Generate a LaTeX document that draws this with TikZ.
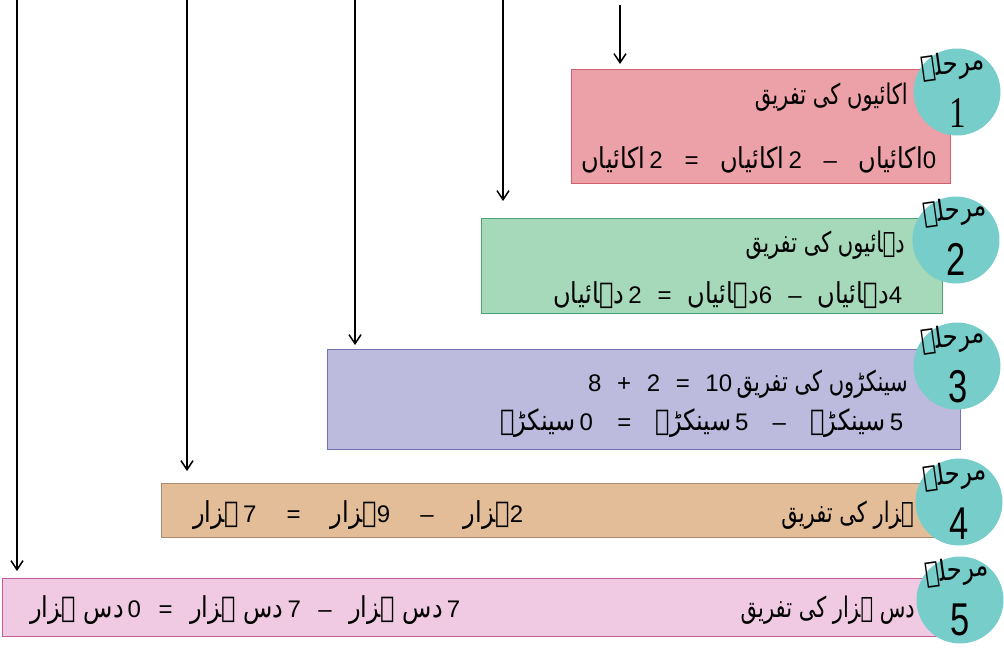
\documentclass[tikz,border=0pt]{standalone}
\usepackage{fontspec}
\usepackage{graphicx}
\setmainfont{Liberation Sans}
\newfontfamily\urdufont[Script=Arabic]{DejaVu Sans}
\newfontfamily\serifnum{Liberation Serif}
\TeXXeTstate=1
\usetikzlibrary{arrows.meta}
\newcommand\ur[1]{{\urdufont\beginR #1\endR}}
\newcommand\urt[1]{\scalebox{1}[1.35]{\ur{#1}}}
\newcommand\urw[1]{\scalebox{1}[1.2]{\ur{#1}}}
\definecolor{fillA}{HTML}{EBA1A7}
\definecolor{edgeA}{HTML}{CF5F6D}
\definecolor{fillB}{HTML}{A5D9BA}
\definecolor{edgeB}{HTML}{4BA275}
\definecolor{fillC}{HTML}{BCBADD}
\definecolor{edgeC}{HTML}{7573B6}
\definecolor{fillD}{HTML}{E3BD98}
\definecolor{edgeD}{HTML}{A88A6E}
\definecolor{fillE}{HTML}{F0CAE2}
\definecolor{edgeE}{HTML}{C45C9A}
\definecolor{tealC}{HTML}{76CDCA}
\begin{document}
\begin{tikzpicture}[x=1pt,y=-1pt,
  stagebox/.style={rectangle, draw, line width=1.3pt, inner sep=0pt, anchor=north west},
  stagecirc/.style={circle, fill=tealC, draw=none, minimum size=87pt, inner sep=0pt},
  marhala/.style={font=\fontsize{24}{26}\selectfont, rotate=8, inner sep=0pt},
  numeral/.style={font=\fontsize{46}{48}\selectfont, xscale=0.75, inner sep=0pt, anchor=base},
  title/.style={font=\fontsize{21}{24}\selectfont, inner sep=0pt, anchor=base east},
  eqline/.style={font=\fontsize{24}{28}\selectfont, inner sep=0pt, anchor=base west},
  flow/.style={line width=1.5pt, -{Straight Barb[length=9pt,width=12pt]}}
]
\useasboundingbox (0,0) rectangle (1004,648);

% boxes
\node[stagebox, fill=fillA, draw=edgeA, minimum width=379pt, minimum height=114pt] (b1) at (571,69) {};
\node[stagebox, fill=fillB, draw=edgeB, minimum width=461pt, minimum height=95pt] (b2) at (481,218) {};
\node[stagebox, fill=fillC, draw=edgeC, minimum width=633pt, minimum height=100pt] (b3) at (327,349) {};
\node[stagebox, fill=fillD, draw=edgeD, minimum width=815pt, minimum height=54pt] (b4) at (161,483) {};
\node[stagebox, fill=fillE, draw=edgeE, minimum width=973pt, minimum height=58pt] (b5) at (2,578) {};

% arrows
\coordinate (s1) at (620,5);   \coordinate (e1) at (620,64);
\coordinate (s2) at (503,0);   \coordinate (e2) at (503,201);
\coordinate (s3) at (355,0);   \coordinate (e3) at (355,345);
\coordinate (s4) at (187,0);   \coordinate (e4) at (187,471);
\coordinate (s5) at (17,0);    \coordinate (e5) at (17,571);
\draw[flow] (s1) -- (e1);
\draw[flow] (s2) -- (e2);
\draw[flow] (s3) -- (e3);
\draw[flow] (s4) -- (e4);
\draw[flow] (s5) -- (e5);

% circles
\node[stagecirc] (c1) at (957,92) {};
\node[stagecirc] (c2) at (956,240) {};
\node[stagecirc] (c3) at (957,366) {};
\node[stagecirc] (c4) at (959,502) {};
\node[stagecirc] (c5) at (960,600) {};

\node[marhala] (m1) at (953,66) {\urw{مرحلہ}};
\node[marhala] (m2) at (955,212) {\urw{مرحلہ}};
\node[marhala] (m3) at (953,339) {\urw{مرحلہ}};
\node[marhala] (m4) at (955,476) {\urw{مرحلہ}};
\node[marhala] (m5) at (957,572) {\urw{مرحلہ}};

\node[numeral, font=\fontsize{44}{48}\serifnum] (n1) at (958,127) {1};
\node[numeral] (n2) at (956,275) {2};
\node[numeral] (n3) at (958,402) {3};
\node[numeral] (n4) at (959,539) {4};
\node[numeral] (n5) at (960,635) {5};

% stage 1
\node[title] (t1) at (908,104) {\urt{اکائیوں کی تفریق}};
\node[eqline] (q1) at (581,168) {\makebox[355pt]{\urw{اکائیاں}\,2\hfill=\hfill\urw{اکائیاں}\,2\hfill–\hfill\urw{اکائیاں}0}};

% stage 2
\node[title] (t2) at (905,252) {\urt{دہائیوں کی تفریق}};
\node[eqline] (q2) at (553,303) {\makebox[349pt]{\urw{دہائیاں}\,2\hfill=\hfill\urw{دہائیاں}6\hfill–\hfill\urw{دہائیاں}4}};

% stage 3
\node[title] (t3) at (908,391) {\urt{سینکڑوں کی تفریق}};
\node[eqline] (q3a) at (588,391) {\makebox[144pt]{8\hfill+\hfill2\hfill=\hfill10}};
\node[eqline] (q3) at (500,430) {\makebox[403pt]{\urw{سینکڑے}\,0\hfill=\hfill\urw{سینکڑے}\,5\hfill–\hfill\urw{سینکڑے}\,5}};

% stage 4
\node[title] (t4) at (914,522) {\urt{ہزار کی تفریق}};
\node[eqline] (q4) at (193,522) {\makebox[330pt]{\urw{ہزار}\,7\hfill=\hfill\urw{ہزار}9\hfill–\hfill\urw{ہزار}2}};

% stage 5
\node[title] (t5) at (915,617) {\urt{دس ہزار کی تفریق}};
\node[eqline] (q5) at (30,617) {\makebox[430pt]{\urw{دس ہزار}\,0\hfill=\hfill\urw{دس ہزار}\,7\hfill–\hfill\urw{دس ہزار}\,7}};
\end{tikzpicture}
\end{document}
